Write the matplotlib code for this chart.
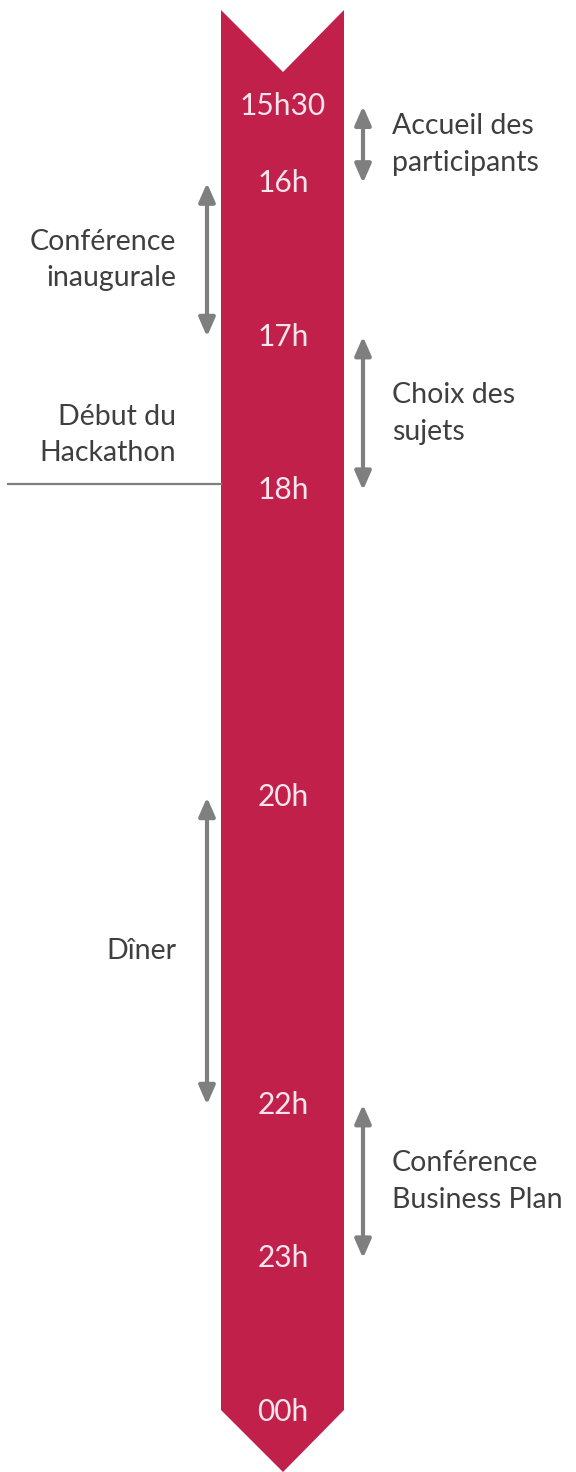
import matplotlib
matplotlib.use("Agg")
import matplotlib.pyplot as plt
from matplotlib.patches import Polygon

# time marks on the band (hours, 24 = midnight)
hours = [15.5, 16, 17, 18, 20, 22, 23, 24]
hour_labels = ["15h30", "16h", "17h", "18h", "20h", "22h", "23h", "00h"]

# events: (start, end, label, side)
ev_start = [15.5, 16, 17, 20, 22]
ev_end = [16, 17, 18, 22, 23]
ev_label = ["Accueil des\nparticipants", "Conférence\ninaugurale",
            "Choix des\nsujets", "Dîner", "Conférence\nBusiness Plan"]
ev_side = ["right", "left", "right", "left", "right"]

milestone_h = 18
milestone_label = "Début du\nHackathon"

band_col = "#c1204b"
grey = "#7f7f7f"
txt_col = "#3f3f3f"

# pixel scale: 1 hour ~ 153.6 px, 16h at y=183
px_per_h = 153.6
h0 = 16 - 183 / px_per_h
h1 = 16 + (1472 - 183) / px_per_h

def hy(px):
    return 16 + (px - 183) / px_per_h

fig = plt.figure(figsize=(5.76, 14.72), dpi=100)
ax = fig.add_axes([0, 0, 1, 1])
ax.set_xlim(0, 576)
ax.set_ylim(h1, h0)
ax.axis("off")

font = ["Lato", "DejaVu Sans"]

# the band with notched top and pointed bottom
xl, xr, xm = 221, 344, 283
band = Polygon([(xl, hy(10)), (xm, hy(72)), (xr, hy(10)), (xr, hy(1410)),
                (xm, hy(1472)), (xl, hy(1410))], closed=True,
               facecolor=band_col, edgecolor="none")
ax.add_patch(band)

for h, lab in zip(hours, hour_labels):
    ax.text(xm, h, lab, ha="center", va="center", color="#fbe6ee",
            fontsize=21.5, family=font)

for s, e, lab, side in zip(ev_start, ev_end, ev_label, ev_side):
    ax_x = 363 if side == "right" else 207
    ax.annotate("", xy=(ax_x, s), xytext=(ax_x, e),
                arrowprops=dict(arrowstyle="<|-|>,head_length=0.8,head_width=0.35",
                                color=grey, lw=3.0, shrinkA=0, shrinkB=0,
                                mutation_scale=14))
    mid = (s + e) / 2
    if side == "right":
        ax.text(392, mid, lab, ha="left", va="center", color=txt_col,
                fontsize=20.5, family=font, linespacing=1.5)
    else:
        ax.text(176, mid, lab, ha="right", va="center", color=txt_col,
                fontsize=20.5, family=font, linespacing=1.5)

ax.plot([8, xl], [hy(484), hy(484)], color=grey, lw=1.6)
ax.text(176, hy(435), milestone_label, ha="right", va="center", color=txt_col,
        fontsize=20.5, family=font, linespacing=1.5)

fig.savefig("out.png", dpi=100, facecolor="white")
